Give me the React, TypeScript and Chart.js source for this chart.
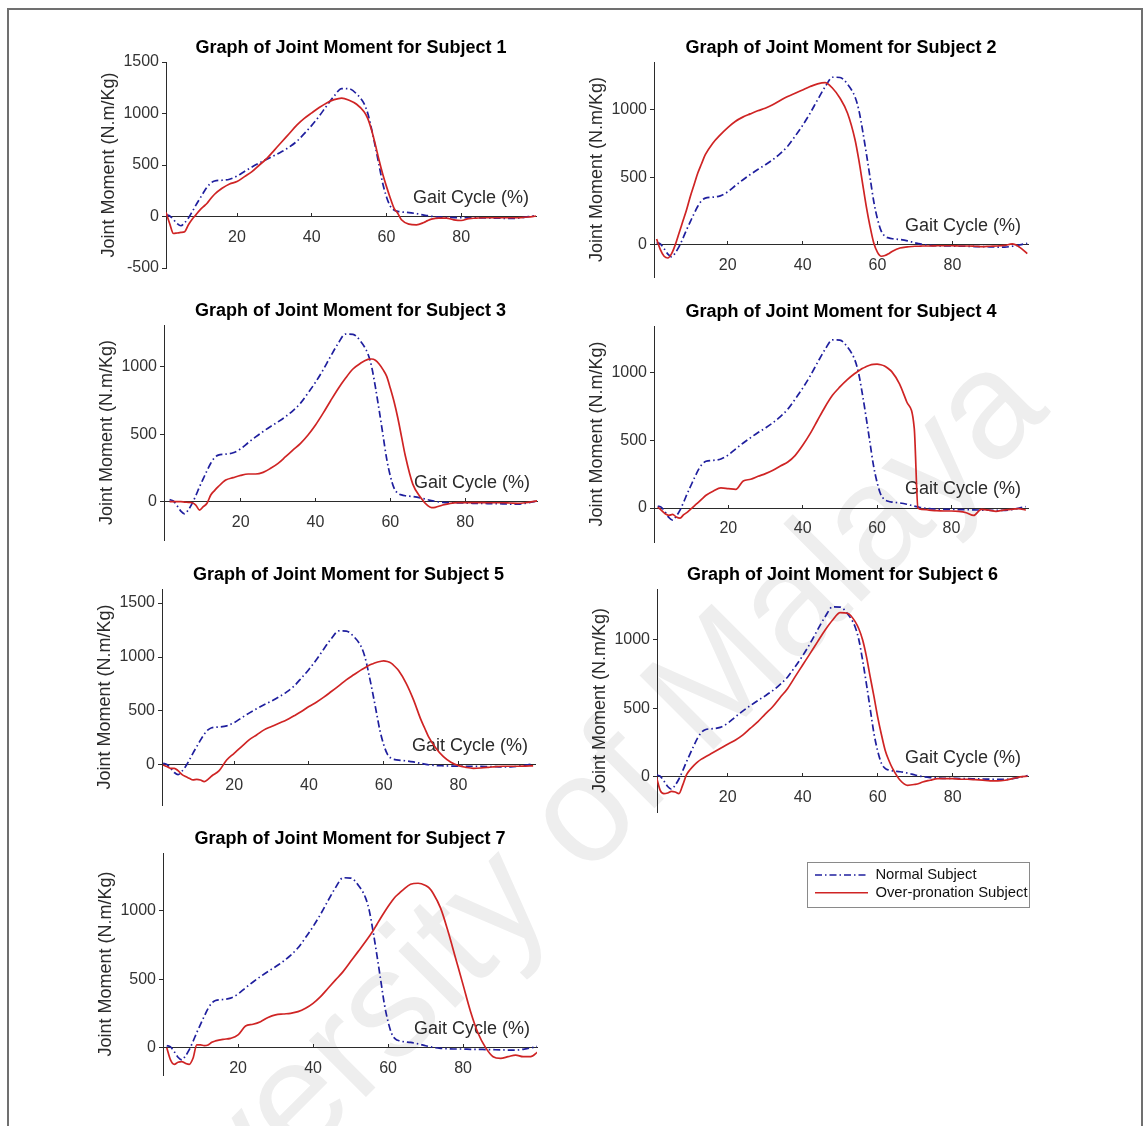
import React, { useEffect, useRef } from 'react';
import { Chart, registerables } from 'chart.js';

Chart.register(...registerables);

const FONT = "'Liberation Sans', Arial, Helvetica, sans-serif";
const AXIS = '#2b2b2b';
const TICK_TEXT = '#333333';
const BLUE = '#1f1f9e';
const RED = '#cf2424';
const DASH = [7, 3, 1.5, 3];
const LINE_W = 1.7;

// Gait cycle sample points (%)
const GAIT = [1, 2, 3, 4, 5, 6, 7, 8, 9, 10, 11, 12, 13, 14, 16, 18, 20, 22, 24, 26, 28, 30, 32, 34, 36, 38, 40, 42, 44, 46, 48, 50, 52, 54, 55, 56, 57, 58, 59, 60, 61, 62, 63, 64, 66, 68, 70, 71, 72, 74, 76, 78, 80, 82, 84, 86, 88, 90, 92, 94, 96, 98, 100];

// Normal subject (same reference curve in every panel)
const NORMAL = [15, 5, -30, -70, -90, -60, -15, 45, 110, 170, 230, 285, 325, 345, 352, 362, 392, 437, 480, 520, 557, 592, 630, 675, 730, 805, 885, 975, 1075, 1170, 1242, 1240, 1190, 1095, 1000, 850, 680, 500, 320, 190, 100, 62, 50, 44, 38, 28, 14, 8, 2, -5, -8, -10, -10, -12, -12, -14, -15, -16, -18, -18, -12, -2, 10];

// Over-pronation subjects
const S1 = [40, -70, -165, -160, -155, -148, -80, -26, 16, 60, 95, 129, 175, 216, 274, 316, 339, 387, 435, 500, 564, 645, 726, 806, 887, 952, 1006, 1058, 1103, 1135, 1150, 1129, 1090, 1016, 950, 839, 700, 548, 410, 290, 180, 81, 32, -32, -74, -81, -58, -40, -26, -16, -16, -32, -39, -20, -16, -12, -12, -12, -12, -12, -10, -5, 5];
const S2 = [42, -37, -86, -99, -67, 0, 86, 173, 259, 358, 445, 531, 600, 667, 753, 815, 869, 914, 946, 970, 993, 1012, 1037, 1069, 1099, 1123, 1148, 1173, 1193, 1202, 1160, 1086, 975, 778, 630, 457, 284, 136, 12, -57, -86, -81, -67, -49, -25, -17, -12, -12, -10, -10, -8, -8, -8, -10, -10, -12, -15, -12, -10, -5, 5, -20, -67];
const S3 = [0, 0, 0, 0, -3, -5, -8, -25, -62, -37, -12, 49, 82, 111, 160, 178, 195, 205, 205, 217, 247, 284, 333, 383, 432, 494, 568, 654, 746, 835, 914, 983, 1025, 1054, 1057, 1048, 1020, 980, 930, 840, 740, 620, 480, 340, 130, 35, -30, -44, -42, -25, -12, -7, -7, -7, -7, -8, -8, -8, -10, -12, -8, 0, 10];
const S4 = [7, -17, -42, -54, -47, -66, -74, -49, -30, -5, 20, 44, 70, 94, 126, 148, 143, 138, 200, 212, 234, 254, 278, 310, 340, 389, 463, 549, 648, 746, 832, 894, 948, 993, 1012, 1030, 1043, 1054, 1060, 1062, 1058, 1049, 1030, 1005, 919, 783, 590, 0, -10, -15, -20, -22, -22, -25, -35, -55, -10, -15, -25, -15, -10, -5, -15];
const S5 = [0, -15, -31, -31, -53, -87, -108, -124, -139, -133, -139, -155, -133, -102, -53, 46, 108, 170, 232, 278, 325, 356, 387, 417, 455, 495, 541, 581, 628, 680, 733, 788, 835, 881, 901, 921, 936, 949, 958, 965, 958, 943, 912, 875, 758, 603, 417, 340, 263, 155, 77, 25, -6, -22, -31, -28, -22, -15, -12, -12, -12, -10, -8];
const S6 = [0, -98, -122, -117, -105, -110, -122, -60, 15, 54, 85, 110, 130, 146, 176, 207, 239, 268, 305, 354, 402, 459, 512, 580, 646, 732, 817, 902, 988, 1073, 1146, 1200, 1195, 1134, 1080, 1000, 880, 732, 590, 439, 310, 195, 120, 61, -24, -61, -54, -48, -37, -24, -12, -12, -12, -17, -17, -20, -24, -29, -29, -24, -12, 0, 5];
const S7 = [0, -90, -122, -107, -102, -115, -122, -78, 20, 20, 15, 20, 39, 49, 61, 68, 93, 158, 171, 190, 220, 239, 246, 251, 263, 288, 324, 373, 434, 495, 556, 629, 702, 776, 815, 854, 900, 946, 990, 1032, 1070, 1105, 1130, 1154, 1195, 1202, 1185, 1166, 1129, 1020, 849, 654, 459, 263, 105, 0, -66, -78, -66, -54, -66, -66, -29];
const OVER = [S1, S2, S3, S4, S5, S6, S7];

const SUBJECTS = [1, 2, 3, 4, 5, 6, 7];
const X_TICKS = [20, 40, 60, 80];
const Y_TICKS = [
  [-500, 0, 500, 1000, 1500],
  [0, 500, 1000],
  [0, 500, 1000],
  [0, 500, 1000],
  [0, 500, 1000, 1500],
  [0, 500, 1000],
  [0, 500, 1000],
];
const X_LIMITS = [[1, 100], [0.3, 100.2], [-0.5, 99.2], [0, 100.6], [0.7, 100.5], [1.15, 100.1], [0, 99.7]];
const Y_LIMITS = [[-500, 1500], [-240, 1355], [-284, 1309], [-251, 1344], [-371, 1630], [-256, 1372], [-200, 1423]];

// axes boxes on the page (layout)
const BOXES = [
  { l: 166, t: 62, r: 536, b: 268 },
  { l: 654, t: 62, r: 1028, b: 277 },
  { l: 164, t: 325, r: 537, b: 540 },
  { l: 654, t: 326, r: 1028, b: 542 },
  { l: 162, t: 589, r: 535, b: 805 },
  { l: 657, t: 589, r: 1028, b: 812 },
  { l: 163, t: 853, r: 537, b: 1075 },
];
const PAD_L = 100, PAD_T = 40, PAD_R = 10, PAD_B = 30;

function makeAnnotate(title: string) {
  return {
    id: 'annotate',
    beforeDatasetsDraw(chart: any) {
      const { ctx, chartArea } = chart;
      const y0 = chart.scales.y.getPixelForValue(0);
      ctx.save();
      ctx.font = `18px ${FONT}`;
      ctx.fillStyle = AXIS;
      ctx.textAlign = 'right';
      ctx.textBaseline = 'middle';
      ctx.fillText('Gait Cycle (%)', chartArea.right - 7, y0 - 18.5);
      ctx.restore();
    },
    afterDraw(chart: any) {
      const { ctx, chartArea } = chart;
      ctx.save();
      ctx.font = `bold 18px ${FONT}`;
      ctx.fillStyle = '#000';
      ctx.textAlign = 'center';
      ctx.textBaseline = 'middle';
      ctx.fillText(title, (chartArea.left + chartArea.right) / 2, chartArea.top - 14);
      ctx.restore();
    },
  };
}

function Subplot({ idx }: { idx: number }) {
  const ref = useRef<HTMLCanvasElement | null>(null);
  const box = BOXES[idx];
  const w = box.r - box.l + PAD_L + PAD_R;
  const h = box.b - box.t + PAD_T + PAD_B;
  useEffect(() => {
    if (!ref.current) return;
    const chart = new Chart(ref.current, {
      type: 'line',
      data: {
        datasets: [
          {
            label: 'Over-pronation Subject',
            data: GAIT.map((x, i) => ({ x, y: OVER[idx][i] })),
            borderColor: RED,
            borderWidth: LINE_W,
            pointRadius: 0,
            cubicInterpolationMode: 'monotone',
            fill: false,
            order: 0,
          },
          {
            label: 'Normal Subject',
            data: GAIT.map((x, i) => ({ x, y: NORMAL[i] })),
            borderColor: BLUE,
            borderWidth: LINE_W,
            borderDash: DASH,
            pointRadius: 0,
            cubicInterpolationMode: 'monotone',
            fill: false,
            order: 1,
          },
        ],
      },
      options: {
        animation: false,
        responsive: false,
        maintainAspectRatio: false,
        events: [],
        layout: { padding: { left: 0, top: PAD_T, right: PAD_R, bottom: PAD_B } },
        plugins: { legend: { display: false }, tooltip: { enabled: false }, title: { display: false } },
        scales: {
          x: {
            type: 'linear',
            min: X_LIMITS[idx][0],
            max: X_LIMITS[idx][1],
            position: { y: 0 } as any,
            afterFit: (s: any) => { s.height = 0; },
            afterBuildTicks: (s: any) => { s.ticks = X_TICKS.map((v) => ({ value: v })); },
            ticks: {
              font: { size: 16, family: FONT },
              color: TICK_TEXT,
              padding: 15,
              maxRotation: 0,
              autoSkip: false,
              callback: (v: any) => String(v),
            },
            grid: { display: true, drawOnChartArea: false, drawTicks: true, tickLength: -4, color: AXIS },
            border: { display: true, color: AXIS, width: 1 },
          },
          y: {
            type: 'linear',
            position: 'left',
            min: Y_LIMITS[idx][0],
            max: Y_LIMITS[idx][1],
            afterFit: (s: any) => { s.width = PAD_L; },
            afterBuildTicks: (s: any) => { s.ticks = Y_TICKS[idx].map((v) => ({ value: v })); },
            ticks: {
              font: { size: 16, family: FONT },
              color: TICK_TEXT,
              padding: 3,
              callback: (v: any) => String(v),
            },
            grid: { display: true, drawOnChartArea: false, drawTicks: true, tickLength: 4, color: AXIS },
            border: { display: true, color: AXIS, width: 1 },
            title: {
              display: true,
              text: 'Joint Moment (N.m/Kg)',
              font: { size: 18, family: FONT },
              color: AXIS,
              padding: { top: 32, bottom: 0 },
            },
          },
        },
      } as any,
      plugins: [makeAnnotate(`Graph of Joint Moment for Subject ${SUBJECTS[idx]}`)],
    });
    return () => chart.destroy();
  }, [idx]);
  return (
    <canvas
      ref={ref}
      width={w}
      height={h}
      style={{ position: 'absolute', left: box.l - PAD_L, top: box.t - PAD_T, width: w, height: h }}
    />
  );
}

function LegendBox() {
  const ref = useRef<HTMLCanvasElement | null>(null);
  useEffect(() => {
    if (!ref.current) return;
    const chart = new Chart(ref.current, {
      type: 'line',
      data: {
        datasets: [
          { label: 'Normal Subject', data: [], borderColor: BLUE, borderWidth: 1.5, borderDash: DASH },
          { label: 'Over-pronation Subject', data: [], borderColor: RED, borderWidth: 1.5 },
        ],
      },
      options: {
        animation: false,
        responsive: false,
        events: [],
        layout: { padding: { left: 4.1, top: 1.7, right: 0, bottom: 0 } },
        scales: { x: { display: false }, y: { display: false } },
        plugins: {
          tooltip: { enabled: false },
          legend: {
            display: true,
            position: 'top',
            align: 'start',
            labels: {
              usePointStyle: true,
              pointStyle: 'line',
              pointStyleWidth: 53,
              font: { size: 14.8, family: FONT },
              color: '#111',
              padding: 2.9,
              generateLabels: (c: any) =>
                c.data.datasets.map((ds: any, i: number) => ({
                  text: ds.label,
                  strokeStyle: ds.borderColor,
                  fillStyle: ds.borderColor,
                  lineWidth: ds.borderWidth,
                  lineDash: ds.borderDash || [],
                  pointStyle: 'line',
                  hidden: false,
                  datasetIndex: i,
                  fontColor: '#111',
                })),
            },
          },
        },
      } as any,
    });
    return () => chart.destroy();
  }, []);
  return (
    <>
      <div
        style={{
          position: 'absolute', left: 807, top: 862, width: 223, height: 46,
          border: '1px solid #8a8a8a', boxSizing: 'border-box', background: '#fff',
        }}
      />
      <canvas ref={ref} width={221} height={120} style={{ position: 'absolute', left: 808, top: 863, width: 221, height: 120 }} />
    </>
  );
}

export default function App() {
  return (
    <div style={{ position: 'absolute', left: 0, top: 0, width: 1144, height: 1126, overflow: 'hidden', background: '#fff' }}>
      <div
        style={{
          position: 'absolute', left: 530, top: 858, transform: 'translate(-50%, -50%) rotate(-45deg)',
          fontSize: 152, fontFamily: FONT, color: '#eeeeee', whiteSpace: 'nowrap', lineHeight: 1, pointerEvents: 'none',
        }}
      >
        University of Malaya
      </div>
      <div
        style={{
          position: 'absolute', left: 7, top: 8, width: 1136, height: 1200,
          border: '2px solid #707070', boxSizing: 'border-box',
        }}
      />
      {BOXES.map((_, i) => (
        <Subplot key={i} idx={i} />
      ))}
      <LegendBox />
    </div>
  );
}
